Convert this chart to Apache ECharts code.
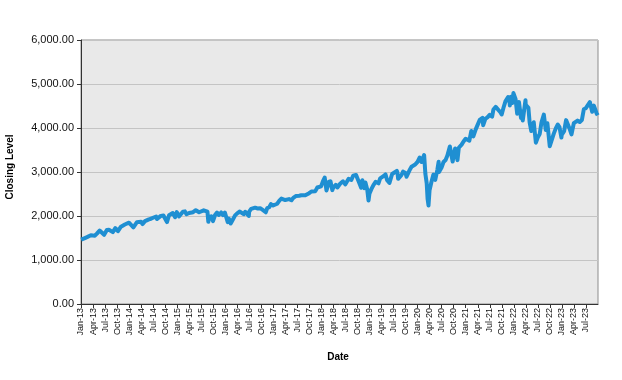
<!DOCTYPE html>
<html>
<head>
<meta charset="utf-8">
<script src="https://cdn.jsdelivr.net/npm/echarts@6/dist/echarts.min.js"></script>
<style>
html,body{margin:0;padding:0;background:#fff;}
#chart{width:622px;height:380px;}
</style>
</head>
<body>
<div id="chart"></div>
<script>
// Closing levels (Jan 2013 - Sep 2023)
var dates = [
'2013-01-02','2013-01-15','2013-01-31','2013-02-15','2013-02-28','2013-03-15','2013-03-28','2013-04-15','2013-04-30','2013-05-21','2013-05-31','2013-06-24','2013-06-28','2013-07-15','2013-07-31','2013-08-15','2013-08-30','2013-09-18','2013-09-30','2013-10-08','2013-10-31','2013-11-15','2013-11-29','2013-12-13','2013-12-31',
'2014-01-15','2014-02-03','2014-02-28','2014-03-14','2014-03-31','2014-04-11','2014-04-30','2014-05-15','2014-05-30','2014-06-15','2014-06-30','2014-07-24','2014-07-31','2014-08-07','2014-08-29','2014-09-18','2014-09-30','2014-10-15','2014-10-31','2014-11-14','2014-11-28','2014-12-16','2014-12-29','2014-12-31',
'2015-01-15','2015-01-30','2015-02-13','2015-02-27','2015-03-11','2015-03-31','2015-04-15','2015-04-30','2015-05-21','2015-05-29','2015-06-15','2015-06-29','2015-07-20','2015-07-31','2015-08-18','2015-08-25','2015-08-31','2015-09-16','2015-09-29','2015-10-15','2015-10-30','2015-11-03','2015-11-13','2015-11-30','2015-12-14','2015-12-29','2015-12-31',
'2016-01-20','2016-01-29','2016-02-11','2016-02-29','2016-03-15','2016-03-31','2016-04-20','2016-04-29','2016-05-19','2016-05-31','2016-06-08','2016-06-27','2016-06-30','2016-07-15','2016-07-29','2016-08-15','2016-08-31','2016-09-09','2016-09-22','2016-09-30','2016-10-14','2016-11-04','2016-11-15','2016-11-30','2016-12-13','2016-12-30',
'2017-01-13','2017-01-31','2017-02-15','2017-02-28','2017-03-01','2017-03-15','2017-03-31','2017-04-13','2017-04-28','2017-05-17','2017-05-31','2017-06-19','2017-06-30','2017-07-15','2017-07-31','2017-08-10','2017-08-31','2017-09-15','2017-09-29','2017-10-16','2017-10-31','2017-11-15','2017-11-30','2017-12-15','2017-12-29',
'2018-01-12','2018-01-26','2018-02-08','2018-02-26','2018-02-28','2018-03-09','2018-03-23','2018-03-29','2018-04-18','2018-04-30','2018-05-03','2018-05-21','2018-05-31','2018-06-12','2018-06-29','2018-07-25','2018-07-31','2018-08-15','2018-08-29','2018-09-20','2018-09-28','2018-10-10','2018-10-29','2018-10-31','2018-11-07','2018-11-23','2018-11-30','2018-12-03','2018-12-14','2018-12-24','2018-12-31',
'2019-01-15','2019-01-31','2019-02-15','2019-02-28','2019-03-08','2019-03-21','2019-03-29','2019-04-15','2019-04-30','2019-05-13','2019-05-31','2019-06-20','2019-06-28','2019-07-26','2019-07-31','2019-08-05','2019-08-15','2019-08-30','2019-09-12','2019-09-30','2019-10-08','2019-10-31','2019-11-15','2019-11-29','2019-12-13','2019-12-31',
'2020-01-17','2020-01-31','2020-02-19','2020-02-28','2020-03-09','2020-03-16','2020-03-23','2020-03-31','2020-04-15','2020-04-29','2020-05-13','2020-05-29','2020-06-08','2020-06-11','2020-06-30','2020-07-15','2020-07-31','2020-08-14','2020-09-02','2020-09-23','2020-09-30','2020-10-12','2020-10-30','2020-11-09','2020-11-30','2020-12-15','2020-12-31',
'2021-01-15','2021-01-29','2021-02-12','2021-02-26','2021-03-04','2021-03-17','2021-03-31','2021-04-16','2021-04-30','2021-05-07','2021-05-12','2021-05-28','2021-06-15','2021-06-30','2021-07-19','2021-07-29','2021-08-16','2021-08-31','2021-09-02','2021-09-20','2021-09-30','2021-10-04','2021-10-15','2021-10-29','2021-11-18','2021-11-30','2021-12-01','2021-12-10','2021-12-20','2021-12-29',
'2022-01-03','2022-01-14','2022-01-27','2022-01-31','2022-02-09','2022-02-23','2022-02-28','2022-03-08','2022-03-29','2022-03-31','2022-04-20','2022-04-29','2022-05-12','2022-05-20','2022-05-31','2022-06-08','2022-06-16','2022-06-30','2022-07-15','2022-07-29','2022-08-16','2022-08-31','2022-09-12','2022-09-30','2022-10-12','2022-10-31','2022-11-15','2022-11-30','2022-12-13','2022-12-28','2022-12-30',
'2023-01-18','2023-02-02','2023-02-28','2023-03-13','2023-03-31','2023-04-28','2023-05-15','2023-05-31','2023-06-15','2023-06-30','2023-07-31','2023-08-18','2023-08-31','2023-09-14','2023-09-21','2023-09-29'
];
var closes = [
1462,1472,1498,1519,1515,1561,1569,1552,1598,1669,1631,1573,1606,1682,1686,1661,1633,1725,1682,1656,1757,1798,1806,1775,1848,
1848,1742,1859,1841,1872,1816,1884,1870,1924,1937,1960,1988,1931,1910,2003,2011,1972,1862,2018,2039,2068,1973,2090,2059,
1992,1995,2097,2105,2040,2068,2106,2086,2131,2107,2085,2058,2129,2104,2097,1868,1972,1995,1884,2023,2079,2109,2023,2080,2021,2078,2044,
1859,1940,1829,1932,2015,2060,2102,2065,2040,2097,2119,2001,2099,2162,2174,2190,2171,2128,2177,2168,2133,2085,2180,2199,2271,2239,
2275,2279,2349,2364,2396,2385,2363,2329,2384,2357,2412,2453,2423,2459,2470,2438,2472,2500,2519,2557,2575,2565,2648,2676,2674,
2786,2873,2581,2780,2714,2786,2588,2641,2708,2648,2630,2733,2705,2787,2718,2846,2816,2818,2914,2931,2914,2785,2641,2712,2814,2633,2760,2790,2600,2351,2507,
2610,2704,2776,2784,2743,2855,2834,2905,2946,2812,2752,2954,2942,3026,2980,2844,2848,2926,3009,2977,2893,3038,3120,3141,3169,3231,
3330,3226,3386,2954,2747,2386,2237,2585,2783,2940,2820,3044,3232,3002,3100,3227,3271,3373,3580,3237,3363,3535,3270,3551,3622,3695,3756,
3768,3714,3934,3811,3768,3974,3973,4185,4181,4233,4063,4204,4246,4298,4258,4419,4479,4523,4537,4358,4308,4300,4471,4605,4704,4567,4513,4712,4568,4793,
4796,4663,4326,4516,4587,4225,4374,4171,4631,4530,4459,4132,3930,3901,4132,4116,3667,3785,3863,4130,4305,3955,4110,3586,3577,3872,3992,4080,4019,3783,3840,
3929,4179,3970,3855,4109,4169,4136,4180,4426,4450,4589,4370,4508,4505,4330,4288
];
var monthNames = ['Jan','Feb','Mar','Apr','May','Jun','Jul','Aug','Sep','Oct','Nov','Dec'];
var startYear = 2013;

function toMonthIndex(s) {
  var p = s.split('-');
  var y = +p[0], m = +p[1], d = +p[2];
  var dim = new Date(y, m, 0).getDate();
  return (y - startYear) * 12 + (m - 1) + (d - 1) / dim;
}
var seriesData = dates.map(function (d, i) { return [toMonthIndex(d), closes[i]]; });

var chart = echarts.init(document.getElementById('chart'), null, {renderer: 'canvas'});
chart.setOption({
  animation: false,
  backgroundColor: '#ffffff',
  grid: {
    left: 81, top: 40, width: 517, height: 264,
    show: true, backgroundColor: '#e9e9e9', borderColor: '#8c8c8c', borderWidth: 1
  },
  xAxis: {
    type: 'value', min: 0, max: 129, interval: 3,
    axisLine: {show: true, onZero: false, lineStyle: {color: '#333333', width: 1}},
    axisTick: {show: true, length: 4, lineStyle: {color: '#333333'}},
    splitLine: {show: false},
    axisLabel: {
      rotate: 90, margin: 4, fontSize: 9, fontFamily: 'Liberation Sans, Arial, sans-serif', color: '#111',
      showMaxLabel: false,
      formatter: function (v) {
        var i = Math.round(v);
        var yy = (startYear + Math.floor(i / 12)) % 100;
        return monthNames[i % 12] + '-' + (yy < 10 ? '0' + yy : yy);
      }
    }
  },
  yAxis: {
    type: 'value', min: 0, max: 6000, interval: 1000,
    axisLine: {show: true, lineStyle: {color: '#333333', width: 1}},
    axisTick: {show: true, length: 4, lineStyle: {color: '#333333'}},
    splitLine: {show: true, lineStyle: {color: '#c4c4c4', width: 1}},
    axisLabel: {
      margin: 7, fontSize: 11, fontFamily: 'Liberation Sans, Arial, sans-serif', color: '#111',
      formatter: function (v) {
        return v.toLocaleString('en-US', {minimumFractionDigits: 2, maximumFractionDigits: 2});
      }
    }
  },
  graphic: [
    {type: 'text', x: 10, y: 167, rotation: Math.PI / 2,
     style: {text: 'Closing Level', font: 'bold 10px "Liberation Sans", Arial, sans-serif', fill: '#000', align: 'center', verticalAlign: 'middle'}},
    {type: 'text', x: 338, y: 357,
     style: {text: 'Date', font: 'bold 10px "Liberation Sans", Arial, sans-serif', fill: '#000', align: 'center', verticalAlign: 'middle'}}
  ],
  series: [{
    type: 'line', data: seriesData, showSymbol: false, smooth: false,
    lineStyle: {color: '#1f8fd2', width: 4, join: 'round'},
    itemStyle: {color: '#1f8fd2'}
  }]
});
</script>
</body>
</html>
